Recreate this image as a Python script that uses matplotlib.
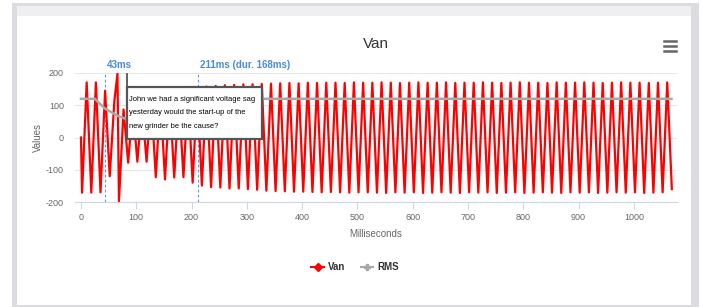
import numpy as np
import matplotlib.pyplot as plt
from matplotlib.patches import Rectangle
from matplotlib.lines import Line2D

plt.rcParams['font.family'] = ['Liberation Sans', 'DejaVu Sans']
plt.rcParams['axes.unicode_minus'] = False

# Van waveform: alternating trough / peak values (V), one every half cycle of 60 Hz
first_trough_ms = 2.0
half_cycle_ms = 1000 / 120

van_troughs = [-171, -171, -170, -120, -198, -78, -75, -75, -123, -130, -124, -123, -140,
               -149, -154, -155, -158, -158, -160, -162, -165,
               -166, -167, -168, -168, -169, -170, -169, -170, -171, -170, -170,
               -171, -172, -170, -171, -170, -172, -171, -170, -171, -172, -170,
               -171, -170, -172, -171, -170, -172, -171, -170, -171, -172, -170,
               -171, -170, -172, -171, -170, -171, -170, -172, -171, -170, -160]
van_peaks = [171, 171, 145, 112, 87, 95, 100, 120, 128, 130, 130, 140, 150, 158, 160,
             162, 163, 165, 165, 166,
             167, 168, 169, 168, 170, 169, 170, 170, 169, 171, 170,
             170, 171, 170, 169, 170, 171, 170, 170, 171, 169, 170,
             170, 171, 170, 169, 170, 171, 170, 170, 169, 171, 170,
             170, 171, 170, 169, 170, 171, 170, 170, 169, 170, 171]

# start sample and the switching transient
extra_t = [0, 66]
extra_v = [0, 198]

# RMS
rms_t = [0, 25, 43, 67, 85, 110, 140, 175, 210, 250, 290, 1068]
rms_v = [120, 120, 90, 67, 55, 55, 70, 90, 105, 115, 120, 120]

# events
event_t = [43, 211]
event_labels = ['43ms', '211ms (dur. 168ms)']

note = ("John we had a significant voltage sag\n"
        "yesterday would the start-up of the\n"
        "new grinder be the cause?")

ext_v = np.empty(len(van_troughs) + len(van_peaks))
ext_v[0::2] = van_troughs
ext_v[1::2] = van_peaks
ext_t = first_trough_ms + half_cycle_ms * np.arange(len(ext_v))
t = np.concatenate([ext_t, extra_t])
v = np.concatenate([ext_v, extra_v])
order = np.argsort(t)
t, v = t[order], v[order]

W, H = 703, 307
fig = plt.figure(figsize=(W / 100, H / 100), dpi=100)
fig.patch.set_facecolor('white')

# panel frame
fig.add_artist(Rectangle((12 / W, 0), 687 / W, 304 / H, transform=fig.transFigure,
                         facecolor='#dcdce0', edgecolor='none', zorder=-10))
fig.add_artist(Rectangle((17 / W, 2 / H), 674 / W, 299 / H, transform=fig.transFigure,
                         facecolor='white', edgecolor='none', zorder=-9))
fig.add_artist(Rectangle((17 / W, 291 / H), 674 / W, 10 / H, transform=fig.transFigure,
                         facecolor='#efeff1', edgecolor='none', zorder=-8))

ax = fig.add_axes([75 / W, (H - 202) / H, 602 / W, 129 / H])
ax.set_facecolor('none')

ax.plot(t, v, color='#ff0000', lw=1.6, zorder=3, solid_joinstyle='round')
ax.plot(rms_t, rms_v, color='#a8a8a8', lw=1.8, zorder=4)

for et, lab in zip(event_t, event_labels):
    ax.axvline(et, color='#5b9be0', lw=0.8, ls=(0, (2.5, 2)), zorder=2)
    ax.text(et + 4, 208, lab, color='#4a8ad8', fontsize=7, fontweight='bold',
            ha='left', va='bottom')

ax.set_xlim(-10.8, 1078)
ax.set_ylim(-200, 200)
ax.set_xticks(np.arange(0, 1001, 100))
ax.set_yticks([-200, -100, 0, 100, 200])
ax.grid(axis='y', color='#e6e6e6', lw=0.8)
ax.set_axisbelow(True)
for s in ['top', 'right', 'left']:
    ax.spines[s].set_visible(False)
ax.spines['bottom'].set_color('#ccd6eb')
ax.tick_params(axis='x', colors='#ccd6eb', length=5, labelcolor='#666666', labelsize=6.5, pad=3)
ax.tick_params(axis='y', length=0, labelcolor='#666666', labelsize=6.5, pad=8)
ax.set_xlabel('Milliseconds', color='#666666', fontsize=7, labelpad=5)
ax.set_ylabel('Values', color='#666666', fontsize=7, labelpad=2)

ax.set_title('Van', color='#333333', fontsize=11, pad=18)

# annotation callout
ax.plot([83, 83], [196, 157], color='#444444', lw=1.2, zorder=6, clip_on=False)
ax.add_patch(Rectangle((83, -5), 244, 162, facecolor='white', edgecolor='#555555',
                       lw=1.6, zorder=7))
ax.text(86, 76, note, fontsize=5.4, color='black', ha='left', va='center',
        linespacing=2.3, zorder=8)

# hamburger menu icon
for yy in [41, 46, 51]:
    fig.add_artist(Line2D([664 / W, 676 / W], [(H - yy) / H] * 2, color='#666666', lw=1.8,
                          transform=fig.transFigure))

handles = [Line2D([], [], color='#ff0000', lw=1.5, marker='D', markersize=4),
           Line2D([], [], color='#a8a8a8', lw=1.5, marker='P', markersize=4.5)]
fig.legend(handles, ['Van', 'RMS'], loc='center', bbox_to_anchor=(355 / W, (H - 267) / H),
           ncol=2, frameon=False, handlelength=1.3, handletextpad=0.4, columnspacing=1.6,
           prop={'size': 7, 'weight': 'bold'}, labelcolor='#333333')

fig.savefig('out.png', dpi=100)
